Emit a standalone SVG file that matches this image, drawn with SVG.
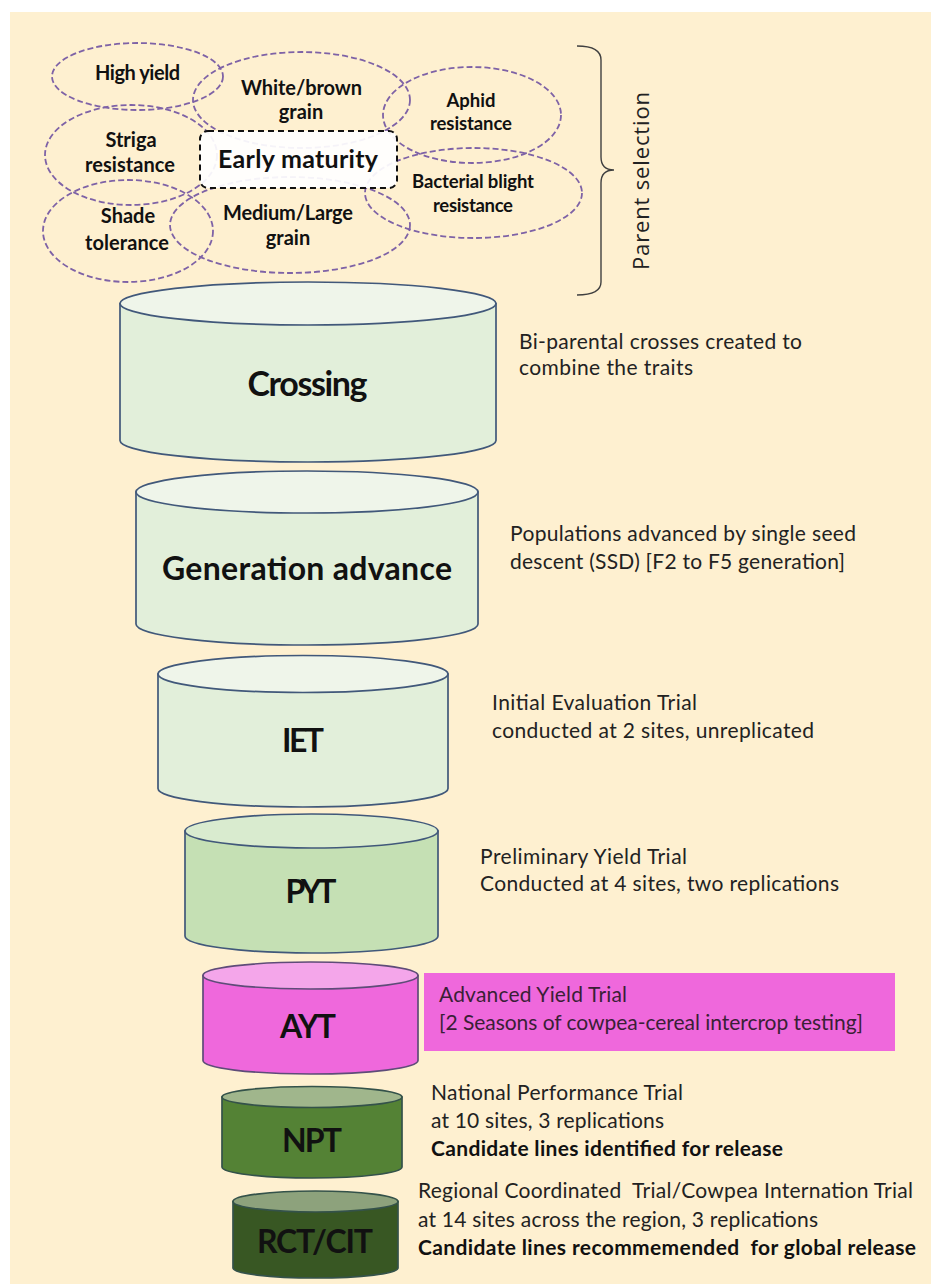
<svg xmlns="http://www.w3.org/2000/svg" width="931" height="1284" viewBox="0 0 931 1284">
<style>
.trait{fill:none;stroke:#7E62A6;stroke-width:1.8;stroke-dasharray:6 3}
.tl{font-family:Lato,"Noto Sans",sans-serif;font-weight:bold;font-size:20px;fill:#111;text-anchor:middle}
.tls{font-size:18.5px}
.cl{font-family:Lato,"Noto Sans",sans-serif;font-weight:bold;font-size:32px;fill:#111;text-anchor:middle}
.desc{font-family:Lato,"Noto Sans",sans-serif;font-size:21px;fill:#222}
.b{font-weight:bold;fill:#111}
.cyl{stroke:#41587A;stroke-width:1.7}
.lg .side{fill:#E2EFDA}.lg .top{fill:#EFF5EA}
.pyt .side{fill:#C5E0B4}.pyt .top{fill:#D9EBCF}
.ayt .side{fill:#EF68DC}.ayt .top{fill:#F4A6EA}.ayt .cyl{stroke:#5E4C78}
.npt .side{fill:#548235}.npt .top{fill:#A0B68C}.npt .cyl{stroke:#34524A}
.rct .side{fill:#385723}.rct .top{fill:#8DA27C}.rct .cyl{stroke:#34524A}
</style>
<rect x="10" y="12" width="921" height="1272" fill="#FEF0D0"/>

<g id="traits">
  <g id="high-yield"><ellipse class="trait" cx="137.5" cy="76.5" rx="85.5" ry="33.5"/><text class="tl" x="137.5" y="80" textLength="85">High yield</text></g>
  <g id="white-brown-grain"><ellipse class="trait" cx="301.5" cy="100" rx="108.5" ry="48"/><text class="tl" x="301.5" y="95" textLength="121">White/brown</text><text class="tl" x="301" y="119">grain</text></g>
  <g id="aphid-resistance"><ellipse class="trait" cx="472" cy="115" rx="89" ry="48"/><text class="tl tls" x="471" y="107">Aphid</text><text class="tl tls" x="471" y="130" textLength="82">resistance</text></g>
  <g id="striga-resistance"><ellipse class="trait" cx="131" cy="155" rx="86" ry="50"/><text class="tl" x="131" y="147">Striga</text><text class="tl" x="130" y="172" textLength="90">resistance</text></g>
  <g id="bacterial-blight"><ellipse class="trait" cx="473.5" cy="193" rx="108.5" ry="45"/><text class="tl tls" x="473" y="188" textLength="122">Bacterial blight</text><text class="tl tls" x="473" y="212" textLength="80">resistance</text></g>
  <g id="shade-tolerance"><ellipse class="trait" cx="128" cy="231" rx="85" ry="51"/><text class="tl" x="128" y="223">Shade</text><text class="tl" x="127" y="250" textLength="84">tolerance</text></g>
  <g id="medium-large-grain"><ellipse class="trait" cx="290" cy="225" rx="120" ry="48"/><text class="tl" x="288" y="220" textLength="130">Medium/Large</text><text class="tl" x="288" y="245">grain</text></g>
  <g id="early-maturity"><rect x="200" y="131" width="197" height="57" rx="8" fill="#FFFFFF" fill-opacity="0.92" stroke="#111" stroke-width="2" stroke-dasharray="6 4"/><text class="tl" style="font-size:25px" x="298" y="168" textLength="160">Early maturity</text></g>
</g>

<g id="parent-selection">
  <path d="M577 46 Q601 46 601 60 L601 157 Q601 170 614 170 Q601 170 601 183 L601 282 Q601 295 577 295" fill="none" stroke="#404040" stroke-width="1.4"/>
  <text transform="translate(649,181) rotate(-90)" text-anchor="middle" font-family="'Open Sans',Lato,sans-serif" font-size="22" fill="#222" textLength="178">Parent selection</text>
</g>

<g id="connectors"/>

<g id="crossing" class="lg">
  <path class="cyl side" d="M120 303.5 L120 440.5 A188 21.5 0 0 0 496 440.5 L496 303.5 Z"/>
  <ellipse class="cyl top" cx="308" cy="303.5" rx="188" ry="21.5"/>
  <text class="cl" style="font-size:34px" x="307.5" y="396" textLength="120">Crossing</text>
</g>
<g id="generation-advance" class="lg">
  <path class="cyl side" d="M136 492 L136 624 A171 21 0 0 0 478 624 L478 492 Z"/>
  <ellipse class="cyl top" cx="307" cy="492" rx="171" ry="21"/>
  <text class="cl" x="307" y="580" textLength="290">Generation advance</text>
</g>
<g id="iet" class="lg">
  <path class="cyl side" d="M158 674 L158 788.5 A145 18.5 0 0 0 448 788.5 L448 674 Z"/>
  <ellipse class="cyl top" cx="303" cy="674" rx="145" ry="18.5"/>
  <text class="cl" x="303" y="752" textLength="42">IET</text>
</g>
<g id="pyt" class="pyt">
  <path class="cyl side" d="M185 831 L185 936 A126.5 17 0 0 0 438 936 L438 831 Z"/>
  <ellipse class="cyl top" cx="311.5" cy="831" rx="126.5" ry="17"/>
  <text class="cl" x="311" y="903" textLength="51">PYT</text>
</g>
<g id="ayt" class="ayt">
  <path class="cyl side" d="M203 975.5 L203 1060.5 A107.5 13.5 0 0 0 418 1060.5 L418 975.5 Z"/>
  <ellipse class="cyl top" cx="310.5" cy="975.5" rx="107.5" ry="13.5"/>
  <text class="cl" x="308" y="1038" textLength="56">AYT</text>
</g>
<g id="npt" class="npt">
  <path class="cyl side" d="M222 1097 L222 1167 A90 11 0 0 0 402 1167 L402 1097 Z"/>
  <ellipse class="cyl top" cx="312" cy="1097" rx="90" ry="10.5"/>
  <text class="cl" x="312" y="1152" textLength="60">NPT</text>
</g>
<g id="rct-cit" class="rct">
  <path class="cyl side" d="M233 1201.5 L233 1268 A82.5 10 0 0 0 398 1268 L398 1201.5 Z"/>
  <ellipse class="cyl top" cx="315.5" cy="1201.5" rx="82.5" ry="10.5"/>
  <text class="cl" x="315" y="1253" textLength="116">RCT/CIT</text>
</g>

<g id="descriptions">
  <g id="desc-crossing"><text class="desc" x="519" y="349" textLength="283">Bi-parental crosses created to</text><text class="desc" x="519" y="375" textLength="174">combine the traits</text></g>
  <g id="desc-generation"><text class="desc" x="510" y="541" textLength="346">Populations advanced by single seed</text><text class="desc" x="510" y="569" textLength="335">descent (SSD) [F2 to F5 generation]</text></g>
  <g id="desc-iet"><text class="desc" x="492" y="710" textLength="205">Initial Evaluation Trial</text><text class="desc" x="492" y="738" textLength="322">conducted at 2 sites, unreplicated</text></g>
  <g id="desc-pyt"><text class="desc" x="480" y="864" textLength="207">Preliminary Yield Trial</text><text class="desc" x="480" y="891" textLength="359">Conducted at 4 sites, two replications</text></g>
  <g id="desc-ayt"><rect x="424" y="973" width="471" height="78" fill="#EF68DC"/><text class="desc" style="fill:#3A1F36" x="439" y="1002" textLength="188">Advanced Yield Trial</text><text class="desc" style="fill:#3A1F36" x="439" y="1030" textLength="424">[2 Seasons of cowpea-cereal intercrop testing]</text></g>
  <g id="desc-npt"><text class="desc" x="431" y="1100" textLength="252">National Performance Trial</text><text class="desc" x="431" y="1128" textLength="233">at 10 sites, 3 replications</text><text class="desc b" x="431" y="1156" textLength="352">Candidate lines identified for release</text></g>
  <g id="desc-rct"><text class="desc" xml:space="preserve" x="418" y="1198" textLength="495">Regional Coordinated  Trial/Cowpea Internation Trial</text><text class="desc" x="418" y="1227" textLength="400">at 14 sites across the region, 3 replications</text><text class="desc b" xml:space="preserve" x="418" y="1255" textLength="498">Candidate lines recommemended  for global release</text></g>
</g>
</svg>
